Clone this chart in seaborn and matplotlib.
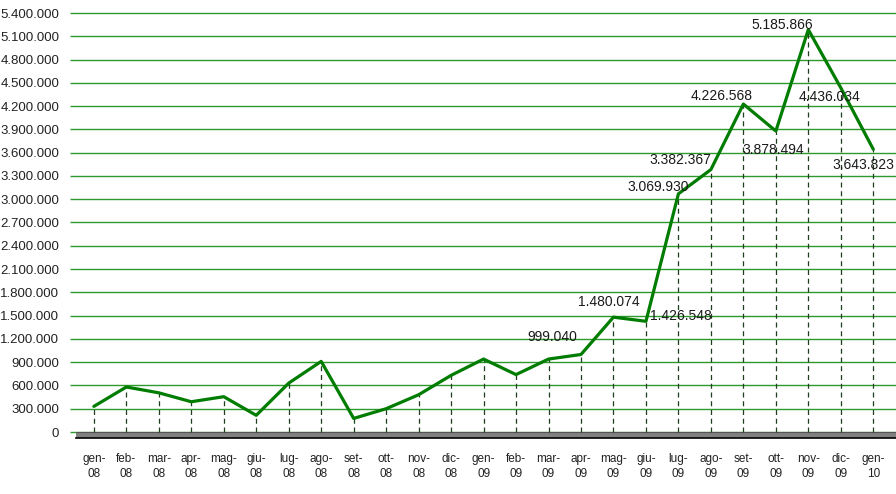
import pandas as pd
import matplotlib
matplotlib.use('Agg')
import matplotlib.pyplot as plt
from matplotlib.ticker import FixedLocator, FuncFormatter
import seaborn as sns

# monthly values, gen-08 .. gen-10
months = ['gen-08', 'feb-08', 'mar-08', 'apr-08', 'mag-08', 'giu-08',
          'lug-08', 'ago-08', 'set-08', 'ott-08', 'nov-08', 'dic-08',
          'gen-09', 'feb-09', 'mar-09', 'apr-09', 'mag-09', 'giu-09',
          'lug-09', 'ago-09', 'set-09', 'ott-09', 'nov-09', 'dic-09',
          'gen-10']
values = [330000, 580000, 505000, 390000, 455000, 215000,
          630000, 910000, 175000, 300000, 480000, 730000,
          940000, 740000, 940000, 999040, 1480074, 1426548,
          3069930, 3382367, 4226568, 3878494, 5185866, 4436034,
          3643823]

# which points get a value label, and where (offset in pixels)
labelled = {'apr-09': (-29, 17), 'mag-09': (-5, 15), 'giu-09': (35, 5),
            'lug-09': (-20, 7), 'ago-09': (-31, 10), 'set-09': (-22, 8),
            'ott-09': (-3, -19), 'nov-09': (-26, 5), 'dic-09': (-11, -9),
            'gen-10': (-10, -16)}

y_ticks = list(range(0, 5400001, 300000))

df = pd.DataFrame({'month': months, 'value': values})
df['pos'] = range(len(df))

sns.set_style('white')
plt.rcParams['font.family'] = ['Liberation Sans', 'DejaVu Sans']

fig = plt.figure(figsize=(8.96, 4.94), dpi=100)
# plot area in pixels: x 76..896, y 8..438 (from top)
ax = fig.add_axes([76 / 896, (494 - 438) / 494, 820 / 896, 430 / 494])

px = 5400000 / 419  # value per pixel
ax.set_ylim(-6 * px, 5400000 + 5 * px)
ax.set_xlim(-0.55, 24.7)

# floor
ax.axhspan(-6 * px, 0, facecolor='#808080', edgecolor='none', zorder=1)
ax.axhline(0, color='#555555', lw=0.8, zorder=1.1)

# drop lines to the floor
ax.vlines(df['pos'], 0, df['value'], colors='#1f3f1f',
          linestyles=(0, (4, 3)), lw=0.9, zorder=2)

sns.lineplot(data=df, x='pos', y='value', color='#007d00', lw=2.3,
             ax=ax, zorder=3)

for _, row in df.iterrows():
    if row['month'] in labelled:
        dx, dy = labelled[row['month']]
        ax.annotate(f"{row['value']:,.0f}".replace(',', '.'),
                    (row['pos'], row['value']), xytext=(dx, dy),
                    textcoords='offset pixels', ha='center', va='center',
                    fontsize=10, color='#1a1a1a', zorder=4,
                    annotation_clip=False)

ax.yaxis.set_major_locator(FixedLocator(y_ticks))
ax.yaxis.set_major_formatter(
    FuncFormatter(lambda v, p: f'{v:,.0f}'.replace(',', '.')))
ax.grid(axis='y', color='#2e9a2e', lw=1)
ax.set_axisbelow(True)

ax.set_xticks(df['pos'])
ax.set_xticklabels([m.replace('-', '-\n') for m in months],
                   fontsize=8.5, color='#222222', linespacing=1.3)
ax.set_xticks([p + 0.5 for p in range(-1, len(df))], minor=True)
ax.tick_params(axis='x', which='major', length=0, pad=11)
ax.tick_params(axis='x', which='minor', length=5, width=1,
               color='black', direction='out')
ax.tick_params(axis='y', length=4, width=1, color='#2e9a2e',
               labelsize=9.5, labelcolor='#222222', pad=8, left=True)

for s in ['top', 'right', 'left']:
    ax.spines[s].set_visible(False)
ax.spines['bottom'].set_color('black')
ax.spines['bottom'].set_linewidth(1.2)

ax.set_xlabel('')
ax.set_ylabel('')

fig.savefig('out.png', dpi=100)
